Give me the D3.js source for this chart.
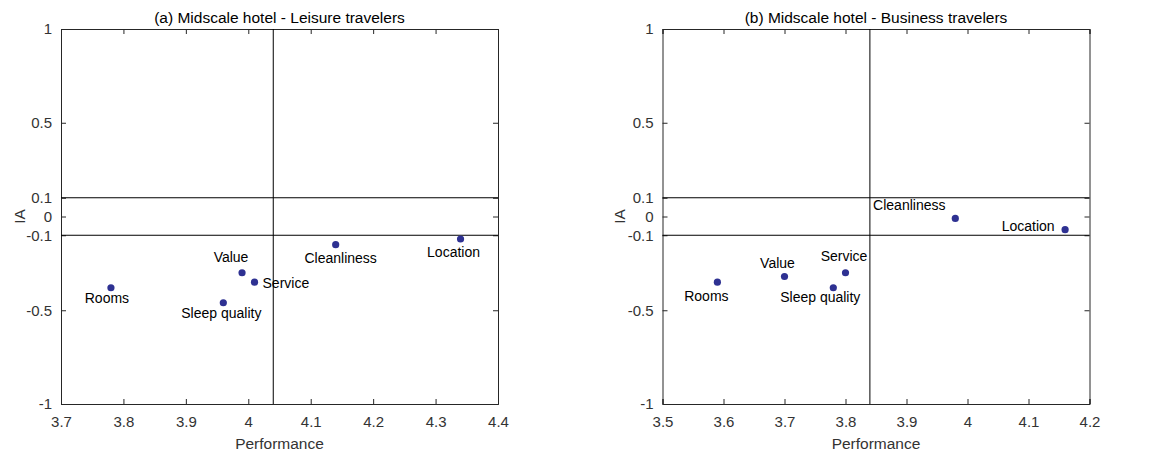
<!DOCTYPE html>
<html>
<head>
<meta charset="utf-8">
<script src="https://cdn.jsdelivr.net/npm/d3@7"></script>
<style>
  html, body { margin: 0; padding: 0; background: #fff; }
  svg { display: block; font-family: "Liberation Sans", Arial, sans-serif; }
</style>
</head>
<body>
<svg id="chart" width="1151" height="455"></svg>
<script>
// ---------- data ----------
const attributes = ["Rooms", "Value", "Service", "Sleep quality", "Cleanliness", "Location"];

const leisureTitle = "(a) Midscale hotel - Leisure travelers";
const leisurePerformance = [3.78, 3.99, 4.01, 3.96, 4.14, 4.34];
const leisureIA          = [-0.38, -0.30, -0.35, -0.46, -0.15, -0.12];
const leisureMeanPerf = 4.04;
const leisureXDomain = [3.7, 4.4];
const leisureXTicks = [3.7, 3.8, 3.9, 4.0, 4.1, 4.2, 4.3, 4.4];

const businessTitle = "(b) Midscale hotel - Business travelers";
const businessPerformance = [3.59, 3.70, 3.80, 3.78, 3.98, 4.16];
const businessIA          = [-0.35, -0.32, -0.30, -0.38, -0.01, -0.07];
const businessMeanPerf = 3.84;
const businessXDomain = [3.5, 4.2];
const businessXTicks = [3.5, 3.6, 3.7, 3.8, 3.9, 4.0, 4.1, 4.2];

const yDomain = [-1, 1];
const yTicks = [-1, -0.5, -0.1, 0, 0.1, 0.5, 1];
const iaBands = [0.1, -0.1];

const xLabel = "Performance";
const yLabel = "IA";

// ---------- label placement (style, not data) ----------
const leisureLabelPos = [
  {dx: -4,  dy: 15,   anchor: "middle"},
  {dx: -11, dy: -10.5, anchor: "middle"},
  {dx: 8,   dy: 5.5,  anchor: "start"},
  {dx: -2,  dy: 15.5, anchor: "middle"},
  {dx: 5,   dy: 18,   anchor: "middle"},
  {dx: -7,  dy: 17.5, anchor: "middle"}
];
const businessLabelPos = [
  {dx: -11, dy: 18.5, anchor: "middle"},
  {dx: -7,  dy: -8.5, anchor: "middle"},
  {dx: -1.5, dy: -11.3, anchor: "middle"},
  {dx: -13, dy: 14,   anchor: "middle"},
  {dx: -46, dy: -8.3, anchor: "middle"},
  {dx: -10.5, dy: 1.5, anchor: "end"}
];

const svg = d3.select("#chart");
const axisColor = "#262626";
const dotColor = "#2E3192";

function panel(cfg) {
  const x = d3.scaleLinear().domain(cfg.xDomain).range([cfg.left, cfg.right]);
  const y = d3.scaleLinear().domain(yDomain).range([cfg.bottom, cfg.top]);
  const g = svg.append("g");
  const tickLen = 5;
  const fmt = d => (Math.round(d * 10) / 10).toString();

  // bottom axis
  const xb = g.append("g").attr("transform", `translate(0,${cfg.bottom})`)
    .call(d3.axisBottom(x).tickValues(cfg.xTicks).tickSize(-tickLen).tickPadding(12).tickFormat(fmt));
  // top axis (ticks only)
  const xt = g.append("g").attr("transform", `translate(0,${cfg.top})`)
    .call(d3.axisTop(x).tickValues(cfg.xTicks).tickSize(-tickLen).tickFormat(""));
  // left axis
  const yl = g.append("g").attr("transform", `translate(${cfg.left},0)`)
    .call(d3.axisLeft(y).tickValues(yTicks).tickSize(-tickLen).tickPadding(9).tickFormat(d => d.toString()));
  // right axis
  const yr = g.append("g").attr("transform", `translate(${cfg.right},0)`)
    .call(d3.axisRight(y).tickValues(yTicks).tickSize(-tickLen).tickFormat(""));

  [xb, xt, yl, yr].forEach(a => {
    a.select(".domain").attr("stroke", axisColor).attr("stroke-width", 1);
    a.selectAll(".tick line").attr("stroke", axisColor);
    a.selectAll(".tick text").attr("fill", "#333").style("font-size", "15px")
      .style("font-family", '"Liberation Sans", Arial, sans-serif');
  });

  // reference lines
  g.append("g").selectAll("line.h").data(iaBands).join("line")
    .attr("x1", cfg.left).attr("x2", cfg.right)
    .attr("y1", d => y(d)).attr("y2", d => y(d))
    .attr("stroke", "#000").attr("stroke-width", 1);
  g.append("line")
    .attr("x1", x(cfg.meanPerf)).attr("x2", x(cfg.meanPerf))
    .attr("y1", cfg.top).attr("y2", cfg.bottom)
    .attr("stroke", "#000").attr("stroke-width", 1);

  const pts = attributes.map((name, i) => ({name, p: cfg.perf[i], ia: cfg.ia[i], pos: cfg.labelPos[i]}));

  g.append("g").selectAll("circle").data(pts).join("circle")
    .attr("cx", d => x(d.p)).attr("cy", d => y(d.ia)).attr("r", 3.6)
    .attr("fill", dotColor);

  g.append("g").selectAll("text").data(pts).join("text")
    .attr("x", d => x(d.p) + d.pos.dx).attr("y", d => y(d.ia) + d.pos.dy)
    .attr("text-anchor", d => d.pos.anchor)
    .style("font-size", "14px").attr("fill", "#000")
    .text(d => d.name);

  // title
  g.append("text").attr("x", (cfg.left + cfg.right) / 2).attr("y", 22.5)
    .attr("text-anchor", "middle").style("font-size", "15.5px").attr("fill", "#000")
    .text(cfg.title);
  // x label
  g.append("text").attr("x", (cfg.left + cfg.right) / 2).attr("y", 449)
    .attr("text-anchor", "middle").style("font-size", "15.5px").attr("fill", "#333")
    .text(xLabel);
  // y label
  g.append("text")
    .attr("transform", `translate(${cfg.yLabelX},${(cfg.top + cfg.bottom) / 2}) rotate(-90)`)
    .attr("text-anchor", "middle").style("font-size", "15.5px").attr("fill", "#333")
    .text(yLabel);
}

panel({
  left: 61, right: 498, top: 29, bottom: 404,
  xDomain: leisureXDomain, xTicks: leisureXTicks,
  perf: leisurePerformance, ia: leisureIA, meanPerf: leisureMeanPerf,
  labelPos: leisureLabelPos, title: leisureTitle, yLabelX: 25
});
panel({
  left: 662.5, right: 1089.5, top: 29, bottom: 404,
  xDomain: businessXDomain, xTicks: businessXTicks,
  perf: businessPerformance, ia: businessIA, meanPerf: businessMeanPerf,
  labelPos: businessLabelPos, title: businessTitle, yLabelX: 625
});
</script>
</body>
</html>
